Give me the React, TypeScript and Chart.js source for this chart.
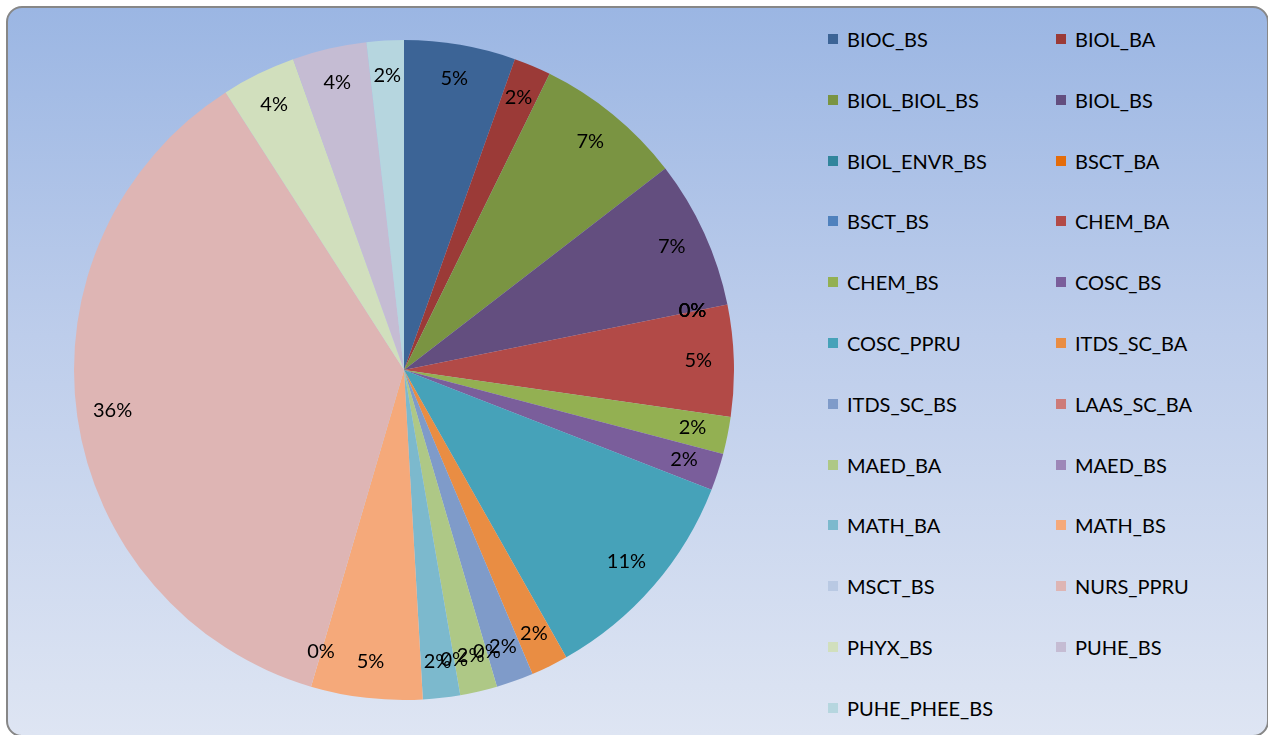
import React, { useEffect, useRef } from "react";
import { Chart, registerables } from "chart.js";

Chart.register(...registerables);

const categories: string[] = [
  "BIOC_BS", "BIOL_BA", "BIOL_BIOL_BS", "BIOL_BS", "BIOL_ENVR_BS", "BSCT_BA",
  "BSCT_BS", "CHEM_BA", "CHEM_BS", "COSC_BS", "COSC_PPRU", "ITDS_SC_BA",
  "ITDS_SC_BS", "LAAS_SC_BA", "MAED_BA", "MAED_BS", "MATH_BA", "MATH_BS",
  "MSCT_BS", "NURS_PPRU", "PHYX_BS", "PUHE_BS", "PUHE_PHEE_BS",
];

const counts: number[] = [
  3, 1, 4, 4, 0, 0,
  0, 3, 1, 1, 6, 1,
  1, 0, 1, 0, 1, 3,
  0, 20, 2, 2, 1,
];

const colors: string[] = [
  "#3C6496", "#9B3A37", "#7A9442", "#634E7F", "#31859C", "#E46C0A",
  "#4F81BD", "#B24A47", "#93B052", "#7A5E9B", "#46A2B9", "#E98D43",
  "#7F9BC9", "#CD7B79", "#AEC886", "#9D87B8", "#7CB9CD", "#F5A97A",
  "#B9C9E3", "#DEB5B4", "#D1DFBD", "#C5BCD3", "#B6D6DF",
];

const FONT = "Lato, 'Open Sans', sans-serif";

const labelPlugin = {
  id: "pctLabels",
  afterDatasetsDraw(chart: any) {
    const ctx = chart.ctx;
    const meta = chart.getDatasetMeta(0);
    const data = chart.data.datasets[0].data as number[];
    const total = data.reduce((a, b) => a + b, 0);
    ctx.save();
    ctx.font = `20px ${FONT}`;
    ctx.fillStyle = "#000";
    ctx.textAlign = "center";
    ctx.textBaseline = "middle";
    meta.data.forEach((arc: any, i: number) => {
      const p = arc.getProps(["x", "y", "startAngle", "endAngle", "outerRadius"], true);
      const mid = (p.startAngle + p.endAngle) / 2;
      const r = p.outerRadius * 0.892;
      const x = p.x + Math.cos(mid) * r;
      const y = p.y + Math.sin(mid) * r - 1;
      const pct = Math.round((data[i] / total) * 100);
      ctx.fillText(pct + "%", x, y);
    });
    ctx.restore();
  },
};

function PieChart() {
  const ref = useRef<HTMLCanvasElement | null>(null);
  useEffect(() => {
    if (!ref.current) return;
    const chart = new Chart(ref.current, {
      type: "pie",
      data: {
        labels: categories,
        datasets: [
          {
            data: counts,
            backgroundColor: colors,
            borderWidth: 0,
          },
        ],
      },
      options: {
        animation: false,
        responsive: false,
        maintainAspectRatio: false,
        layout: { padding: 0 },
        plugins: {
          legend: { display: false },
          tooltip: { enabled: false },
        },
      },
      plugins: [labelPlugin],
    });
    return () => chart.destroy();
  }, []);
  return (
    <canvas
      ref={ref}
      width={660}
      height={660}
      style={{ position: "absolute", left: 74, top: 40, width: 660, height: 660 }}
    />
  );
}

export default function App() {
  const rowPitch = 60.8;
  return (
    <div
      style={{
        position: "fixed",
        left: 0,
        top: 0,
        width: 1268,
        height: 735,
        background: "#fff",
        overflow: "hidden",
        fontFamily: FONT,
      }}
    >
      <div
        style={{
          position: "absolute",
          left: 6,
          top: 6,
          width: 1259,
          height: 727,
          border: "2px solid #878787",
          borderRadius: 16,
          background: "linear-gradient(to bottom, #9BB6E3 0%, #BDCDEB 45%, #DEE5F3 100%)",
        }}
      />
      <PieChart />
      {categories.map((c, i) => {
        const col = i % 2;
        const row = Math.floor(i / 2);
        const y = 39 + row * rowPitch;
        const mx = col === 0 ? 828 : 1056;
        return (
          <React.Fragment key={c}>
            <div
              style={{
                position: "absolute",
                left: mx,
                top: y - 5,
                width: 10,
                height: 10,
                background: colors[i],
              }}
            />
            <div
              style={{
                position: "absolute",
                left: mx + 19,
                top: y - 13,
                height: 26,
                lineHeight: "26px",
                fontSize: 20,
                color: "#000",
                whiteSpace: "nowrap",
              }}
            >
              {c}
            </div>
          </React.Fragment>
        );
      })}
    </div>
  );
}
